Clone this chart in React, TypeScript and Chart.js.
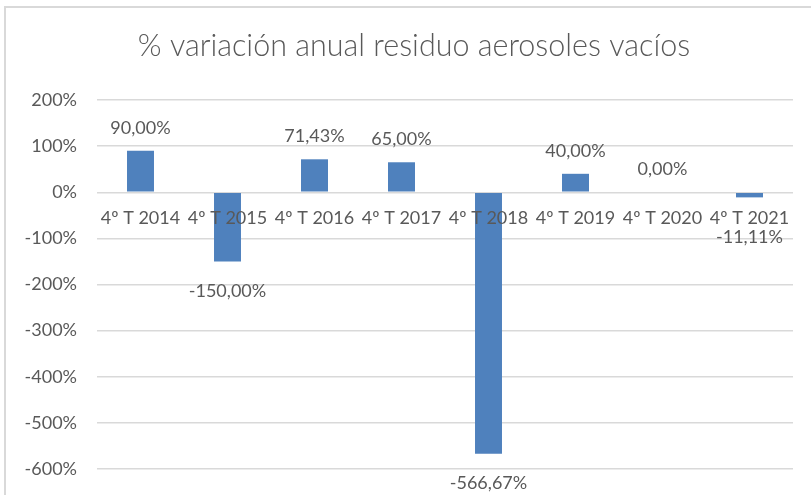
import React, { useEffect, useRef } from "react";
import { Chart, registerables } from "chart.js";

Chart.register(...registerables);

const TITLE = "% variación anual residuo aerosoles vacíos";
const CATEGORIES = ["4º T 2014", "4º T 2015", "4º T 2016", "4º T 2017", "4º T 2018", "4º T 2019", "4º T 2020", "4º T 2021"];
const VALUES = [90.0, -150.0, 71.43, 65.0, -566.67, 40.0, 0.0, -11.11];
const Y_MIN = -600;
const Y_MAX = 200;
const Y_STEP = 100;

const FONT = "Lato, 'Open Sans', sans-serif";
const TEXT = "#595959";

const fmt = (v: number) => v.toFixed(2).replace(".", ",") + "%";

const labelPlugin = {
  id: "valueLabels",
  afterDraw(chart: any) {
    const ctx = chart.ctx;
    const meta = chart.getDatasetMeta(0);
    const zeroY = chart.scales.y.getPixelForValue(0);
    ctx.save();
    ctx.font = `18px ${FONT}`;
    ctx.fillStyle = TEXT;
    ctx.textAlign = "center";
    ctx.textBaseline = "middle";
    meta.data.forEach((el: any, i: number) => {
      const v = VALUES[i];
      let y: number;
      if (v >= 0) y = el.y - 23;
      else y = Math.max(el.y + 30, zeroY + 45);
      ctx.fillText(fmt(v), el.x, y);
    });
    ctx.restore();
  },
};

const frameAndTitlePlugin = {
  id: "frameTitle",
  beforeDraw(chart: any) {
    const ctx = chart.ctx;
    ctx.save();
    ctx.strokeStyle = "#d9d9d9";
    ctx.lineWidth = 2;
    ctx.beginPath();
    ctx.moveTo(5, chart.height);
    ctx.lineTo(5, 7);
    ctx.lineTo(chart.width, 7);
    ctx.stroke();
    ctx.font = `300 30.5px ${FONT}`;
    ctx.fillStyle = TEXT;
    ctx.textAlign = "center";
    ctx.textBaseline = "middle";
    ctx.fillText(TITLE, 414, 46);
    ctx.restore();
  },
};

export default function App() {
  const ref = useRef<HTMLCanvasElement>(null);
  useEffect(() => {
    document.body.style.margin = "0";
    const chart = new Chart(ref.current!, {
      type: "bar",
      data: {
        labels: CATEGORIES,
        datasets: [
          {
            data: VALUES,
            backgroundColor: "#4f81bd",
            barPercentage: 0.31,
            categoryPercentage: 1,
          },
        ],
      },
      options: {
        animation: false,
        responsive: false,
        layout: { padding: { top: 100, left: 0, right: 18, bottom: 26 } },
        plugins: {
          legend: { display: false },
          tooltip: { enabled: false },
          title: { display: false },
        },
        scales: {
          x: {
            position: { y: 0 } as any,
            afterFit: (s: any) => {
              s.height = 0;
            },
            grid: { display: false },
            border: { display: false },
            ticks: {
              z: 1,
              color: TEXT,
              font: { family: FONT, size: 18 },
              autoSkip: false,
              maxRotation: 0,
              minRotation: 0,
              padding: 7,
            },
          },
          y: {
            min: Y_MIN,
            max: Y_MAX,
            afterFit: (s: any) => {
              s.width = 97;
              s.paddingTop = 0;
              s.paddingBottom = 0;
            },
            grid: { color: "#d9d9d9", lineWidth: 1.5, drawTicks: false },
            border: { display: false },
            ticks: {
              stepSize: Y_STEP,
              color: TEXT,
              padding: 20,
              font: { family: FONT, size: 18 },
              callback: (v: any) => `${v}%`,
            },
          },
        },
      },
      plugins: [labelPlugin, frameAndTitlePlugin],
    });
    return () => chart.destroy();
  }, []);
  return <canvas ref={ref} width={811} height={495} style={{ display: "block" }} />;
}
